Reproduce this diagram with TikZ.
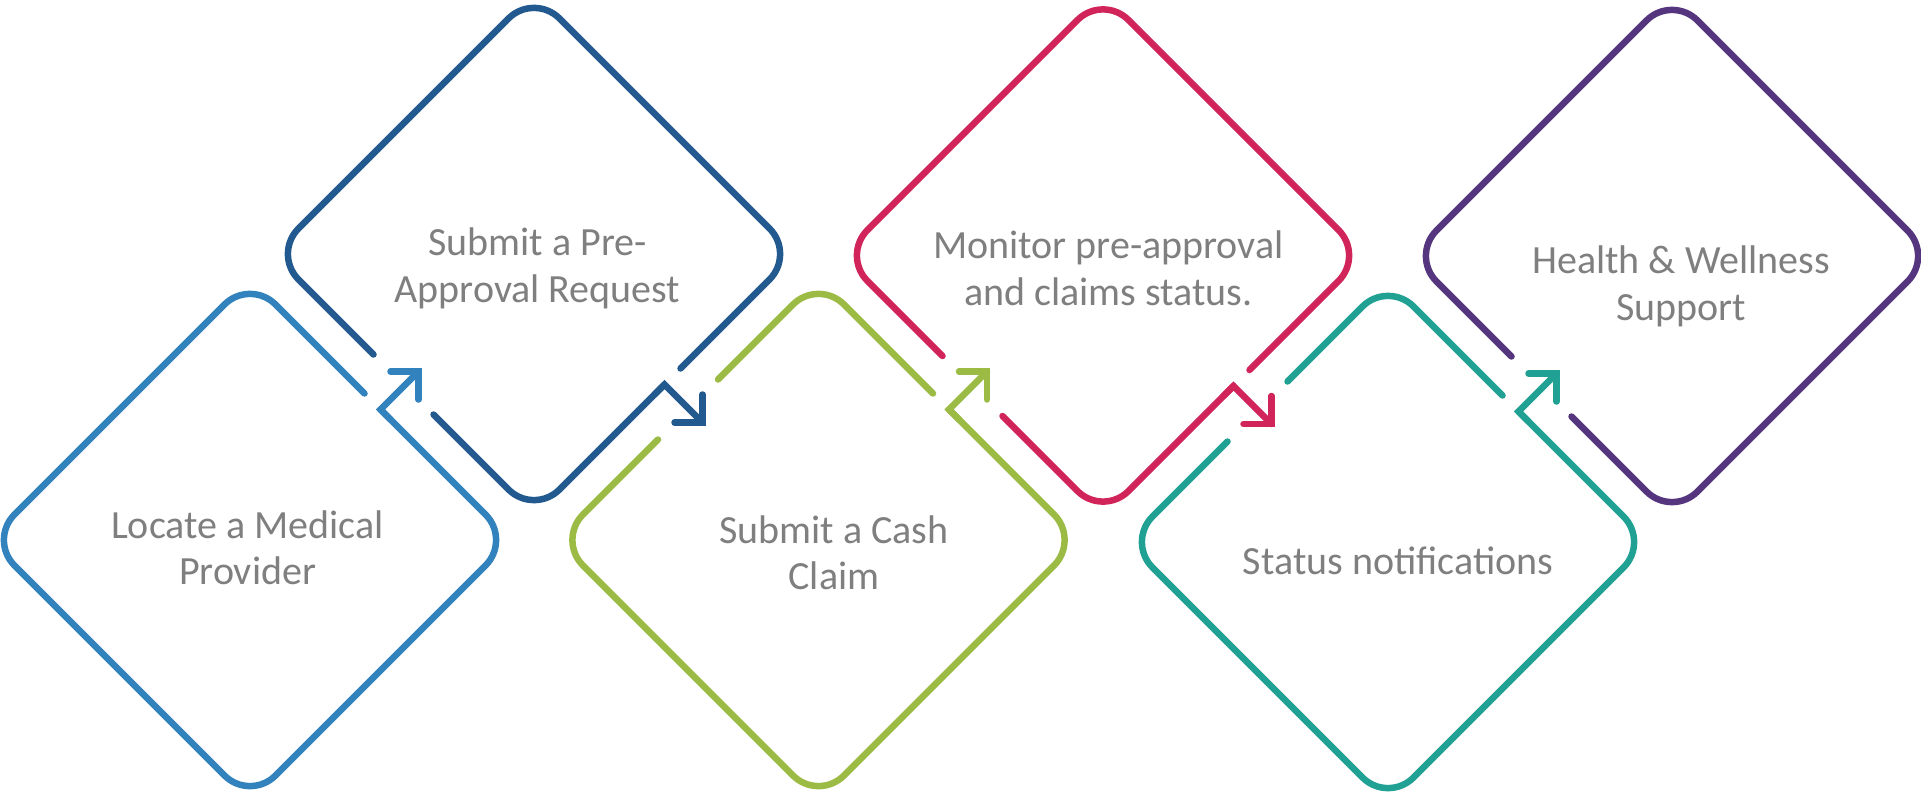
\documentclass[tikz,border=0pt]{standalone}
\usepackage{fontspec}
\setmainfont{Carlito}
\definecolor{cA}{HTML}{3182BD}
\definecolor{cB}{HTML}{225A8F}
\definecolor{cC}{HTML}{9BBB45}
\definecolor{cD}{HTML}{D1245A}
\definecolor{cE}{HTML}{21A193}
\definecolor{cF}{HTML}{55357E}
\definecolor{txt}{HTML}{7F7F7F}
\begin{document}
\begin{tikzpicture}[x=1pt,y=-1pt,line cap=round,line join=round,
  outline/.style={line width=6.5pt,rounded corners=36pt},
  arrowpart/.style={line width=6.5pt,line join=miter},
  label/.style={inner sep=0pt,align=center,text=txt,font=\fontsize{40}{46.7}\selectfont}]
\useasboundingbox (0,0) rectangle (1921,794);
\coordinate (d1) at (250,540);
\coordinate (d2) at (534,254);
\coordinate (d3) at (818.5,540);
\coordinate (d4) at (1103,255.5);
\coordinate (d5) at (1388,542);
\coordinate (d6) at (1672,256);
% diamond 1
\begin{scope}[shift={(d1)},draw=cA]
\draw[outline] (114.5,-146.5) -- (0,-261) -- (-261,0) -- (0,261) -- (261,0) -- (130.5,-130.5);
\draw[arrowpart] (140.5,-120.5) -- (130.5,-130.5) -- (168.5,-168.5);
\draw[arrowpart] (140.5,-168.5) -- (168.5,-168.5) -- (168.5,-140.5);
\end{scope}
% diamond 2
\begin{scope}[shift={(d2)},draw=cB]
\draw[outline] (-100.5,160.5) -- (0,261) -- (130.5,130.5);
\draw[arrowpart] (120.5,140.5) -- (130.5,130.5) -- (168.5,168.5);
\draw[arrowpart] (168.5,140.5) -- (168.5,168.5) -- (140.5,168.5);
\draw[outline] (-160.5,100.5) -- (-261,0) -- (0,-261) -- (261,0) -- (146.5,114.5);
\end{scope}
% diamond 3
\begin{scope}[shift={(d3)},draw=cC]
\draw[outline] (130.5,-130.5) -- (261,0) -- (0,261) -- (-261,0) -- (-160.5,-100.5);
\draw[arrowpart] (140.5,-120.5) -- (130.5,-130.5) -- (168.5,-168.5);
\draw[arrowpart] (140.5,-168.5) -- (168.5,-168.5) -- (168.5,-140.5);
\draw[outline] (-100.5,-160.5) -- (0,-261) -- (114.5,-146.5);
\end{scope}
% diamond 4
\begin{scope}[shift={(d4)},draw=cD]
\draw[outline] (-100.5,160.5) -- (0,261) -- (130.5,130.5);
\draw[arrowpart] (120.5,140.5) -- (130.5,130.5) -- (168.5,168.5);
\draw[arrowpart] (168.5,140.5) -- (168.5,168.5) -- (140.5,168.5);
\draw[outline] (-160.5,100.5) -- (-261,0) -- (0,-261) -- (261,0) -- (146.5,114.5);
\end{scope}
% diamond 5
\begin{scope}[shift={(d5)},draw=cE]
\draw[outline] (130.5,-130.5) -- (261,0) -- (0,261) -- (-261,0) -- (-160.5,-100.5);
\draw[arrowpart] (140.5,-120.5) -- (130.5,-130.5) -- (168.5,-168.5);
\draw[arrowpart] (140.5,-168.5) -- (168.5,-168.5) -- (168.5,-140.5);
\draw[outline] (-100.5,-160.5) -- (0,-261) -- (114.5,-146.5);
\end{scope}
% diamond 6
\begin{scope}[shift={(d6)},draw=cF]
\draw[outline] (-100.5,160.5) -- (0,261) -- (261,0) -- (0,-261) -- (-261,0) -- (-160.5,100.5);
\end{scope}
% labels
\node[label] (t1) at (247.5,547.7) {Locate a Medical\\Provider};
\node[label] (t2) at (537.5,268.2) {Submit a Pre-\\Approval Request};
\node[label] (t3) at (834,552.7) {Submit a Cash\\Claim};
\node[label] (t4) at (1108.5,268.2) {Monitor pre-approval\\and claims status.};
\node[label] (t5) at (1398,561.2) {Status notifications};
\node[label] (t6) at (1681,286.2) {Health \& Wellness\\Support};
\end{tikzpicture}
\end{document}
